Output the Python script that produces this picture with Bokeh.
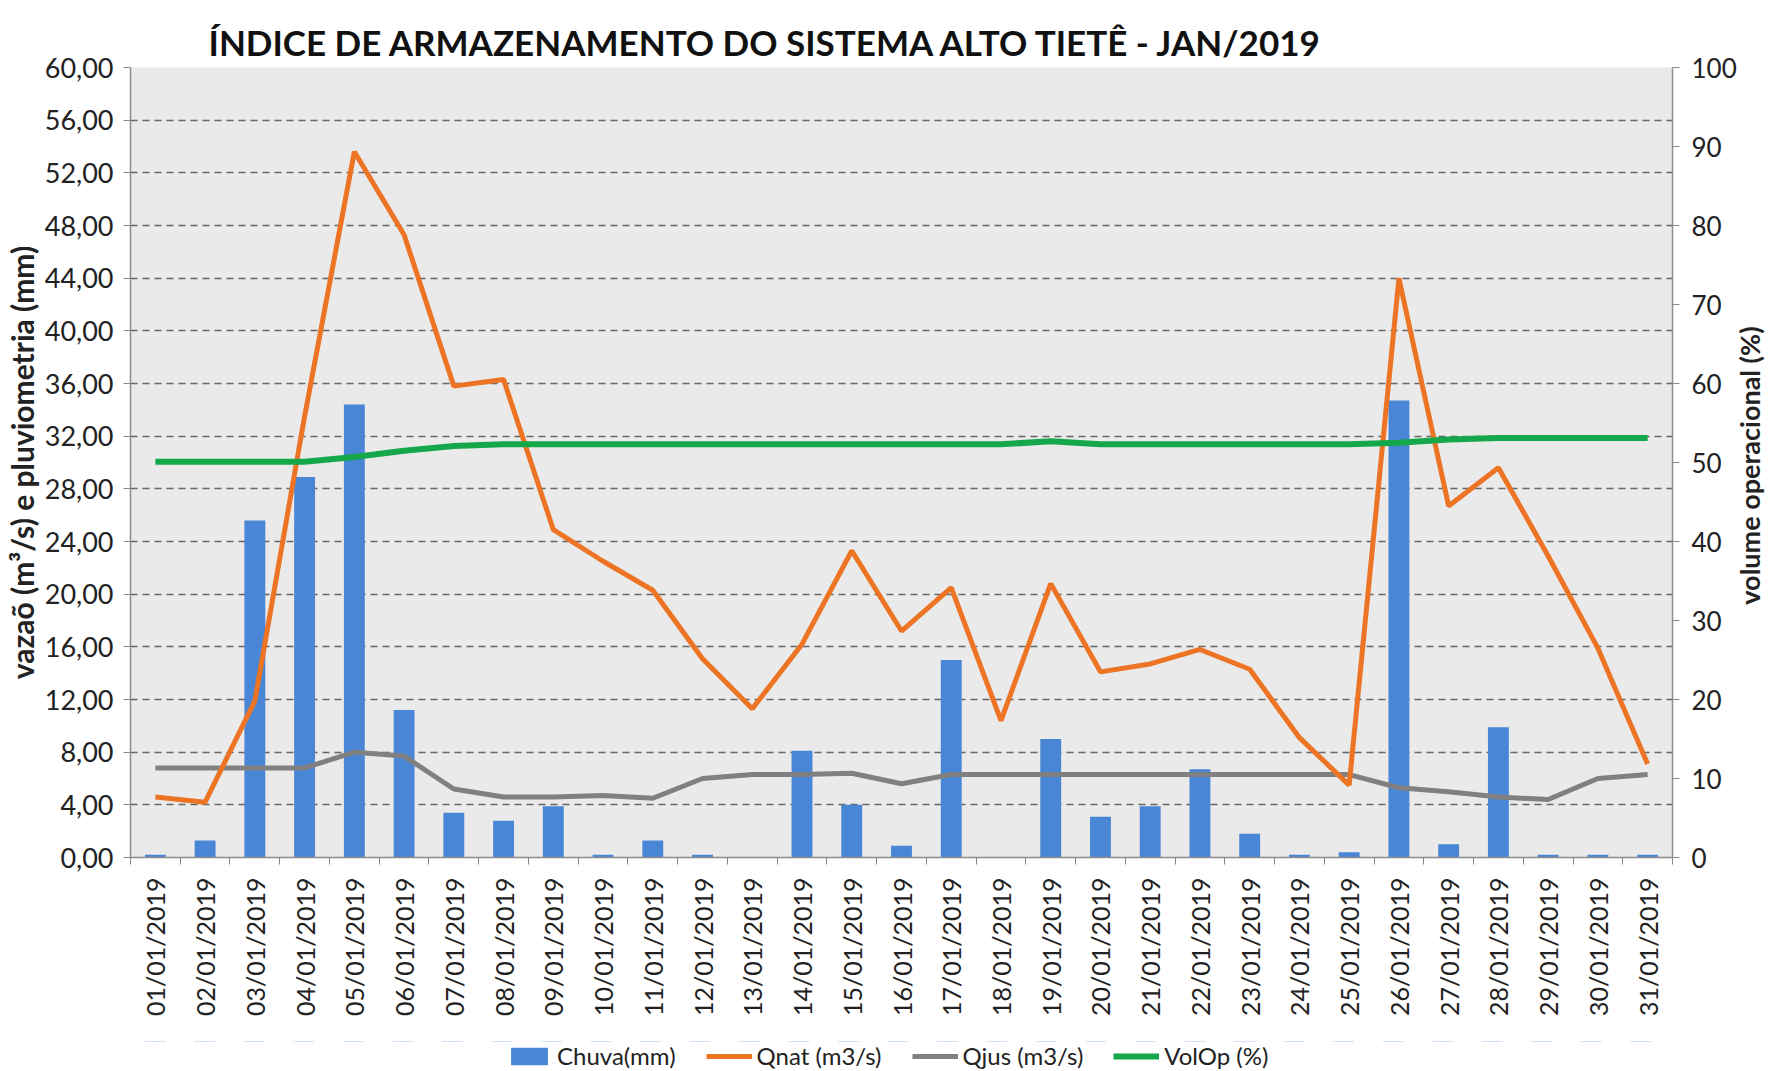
from bokeh.plotting import figure
from bokeh.layouts import column
from bokeh.models import (Range1d, LinearAxis, FixedTicker, Legend, LegendItem, Title,
                          ColumnDataSource, CustomJSTickFormatter)
from bokeh.embed import file_html
from bokeh.resources import INLINE

dates = ["01/01/2019", "02/01/2019", "03/01/2019", "04/01/2019", "05/01/2019", "06/01/2019",
         "07/01/2019", "08/01/2019", "09/01/2019", "10/01/2019", "11/01/2019", "12/01/2019",
         "13/01/2019", "14/01/2019", "15/01/2019", "16/01/2019", "17/01/2019", "18/01/2019",
         "19/01/2019", "20/01/2019", "21/01/2019", "22/01/2019", "23/01/2019", "24/01/2019",
         "25/01/2019", "26/01/2019", "27/01/2019", "28/01/2019", "29/01/2019", "30/01/2019",
         "31/01/2019"]

chuva = [0.2, 1.3, 25.6, 28.9, 34.4, 11.2, 3.4, 2.8, 3.9, 0.2, 1.3, 0.2, 0.0, 8.1, 4.0, 0.9,
         15.0, 0.0, 9.0, 3.1, 3.9, 6.7, 1.8, 0.2, 0.4, 34.7, 1.0, 9.9, 0.2, 0.2, 0.2]

qnat = [4.6, 4.2, 11.9, 33.5, 53.6, 47.3, 35.8, 36.3, 24.9, 22.5, 20.3, 15.1, 11.3, 16.2, 23.3,
        17.2, 20.5, 10.4, 20.8, 14.1, 14.7, 15.8, 14.3, 9.1, 5.5, 44.0, 26.7, 29.6, 22.9, 15.9, 7.1]

qjus = [6.8, 6.8, 6.8, 6.8, 8.0, 7.7, 5.2, 4.6, 4.6, 4.7, 4.5, 6.0, 6.3, 6.3, 6.4, 5.6, 6.3,
        6.3, 6.3, 6.3, 6.3, 6.3, 6.3, 6.3, 6.3, 5.3, 5.0, 4.6, 4.4, 6.0, 6.3]

volop = [50.1, 50.1, 50.1, 50.1, 50.7, 51.5, 52.1, 52.3, 52.3, 52.3, 52.3, 52.3, 52.3, 52.3,
         52.3, 52.3, 52.3, 52.3, 52.7, 52.3, 52.3, 52.3, 52.3, 52.3, 52.3, 52.5, 52.9, 53.1,
         53.1, 53.1, 53.1]

left_ticks = [0, 4, 8, 12, 16, 20, 24, 28, 32, 36, 40, 44, 48, 52, 56, 60]
right_ticks = [0, 10, 20, 30, 40, 50, 60, 70, 80, 90, 100]

series_names = ["Chuva(mm)", "Qnat (m3/s)", "Qjus (m3/s)", "VolOp (%)"]
left_title = "vazaõ (m³/s) e pluviometria (mm)"
right_title = "volume operacional (%)"

FONT = "Lato"
C_BAR, C_QNAT, C_QJUS, C_VOL = "#4A86D6", "#EC7424", "#808080", "#14A84A"
RIGHT_TITLE_START = 32  # where the rotated right-axis title begins (in % units of that axis)

n = len(dates)
xpos = list(range(1, n + 1))
src = ColumnDataSource(dict(x=xpos, date=dates, chuva=chuva, qnat=qnat, qjus=qjus, volop=volop))

p = figure(frame_width=1542, frame_height=790, output_backend="svg", toolbar_location=None,
           x_range=Range1d(0.5, n + 0.5), y_range=Range1d(0, 60),
           min_border_left=130, min_border_right=104, min_border_top=67, min_border_bottom=184,
           background_fill_color="#EAEAEA", border_fill_color="white")
p.outline_line_color = None
p.extra_y_ranges = {"vol": Range1d(0, 100)}

p.title = Title(text="ÍNDICE DE ARMAZENAMENTO DO SISTEMA ALTO TIETÊ - JAN/2019",
                align="left", offset=78, text_font=FONT, text_font_style="bold",
                text_font_size="35px", text_color="#111111")

bars = p.vbar(x="x", top="chuva", width=0.42, bottom=0, source=src,
              fill_color=C_BAR, line_color=None)
l_qjus = p.line("x", "qjus", source=src, line_color=C_QJUS, line_width=5)
l_qnat = p.line("x", "qnat", source=src, line_color=C_QNAT, line_width=5)
l_vol = p.line("x", "volop", source=src, y_range_name="vol", line_color=C_VOL, line_width=6)

# x axis
xa = p.xaxis[0]
xa.ticker = FixedTicker(ticks=xpos, minor_ticks=[i + 0.5 for i in range(0, n + 1)])
xa.major_label_overrides = {i: d for i, d in zip(xpos, dates)}
xa.major_label_orientation = 1.5707963
xa.major_tick_line_color = None
xa.major_tick_out = 7
xa.minor_tick_line_color = "#888888"
xa.minor_tick_out = 7
xa.minor_tick_in = 0
xa.axis_line_color = "#8C8C8C"
xa.axis_line_width = 1.5
xa.major_label_text_font = FONT
xa.major_label_text_font_size = "25px"
xa.major_label_text_color = "#222222"
xa.major_label_standoff = 13

# left y axis
ya = p.yaxis[0]
ya.ticker = FixedTicker(ticks=left_ticks)
ya.formatter = CustomJSTickFormatter(code="return tick.toFixed(2).replace('.', ',');")
ya.axis_label = left_title
ya.axis_label_text_font = FONT
ya.axis_label_text_font_style = "bold"
ya.axis_label_text_font_size = "30px"
ya.axis_label_text_color = "#222222"
ya.axis_label_standoff = 2
ya.major_label_text_font = FONT
ya.major_label_text_font_size = "27px"
ya.major_label_text_color = "#222222"
ya.major_tick_out = 7
ya.major_tick_in = 0
ya.major_tick_line_color = "#8C8C8C"
ya.minor_tick_line_color = None
ya.axis_line_color = "#8C8C8C"
ya.axis_line_width = 1.5
ya.major_label_standoff = 10

# right y axis (ticks)
ra = LinearAxis(y_range_name="vol", ticker=FixedTicker(ticks=right_ticks))
ra.major_label_text_font = FONT
ra.major_label_text_font_size = "26px"
ra.major_label_text_color = "#222222"
ra.major_tick_out = 7
ra.major_tick_in = 0
ra.major_tick_line_color = "#8C8C8C"
ra.minor_tick_line_color = None
ra.axis_line_color = "#8C8C8C"
ra.axis_line_width = 1.5
ra.major_label_standoff = 12
p.add_layout(ra, "right")

# right y axis title, written bottom-to-top
rt = LinearAxis(y_range_name="vol", ticker=FixedTicker(ticks=[RIGHT_TITLE_START]))
rt.major_label_overrides = {RIGHT_TITLE_START: right_title}
rt.major_label_orientation = 1.5707963
rt.major_label_text_font = FONT
rt.major_label_text_font_style = "bold"
rt.major_label_text_font_size = "27px"
rt.major_label_text_color = "#222222"
rt.major_label_standoff = 10
rt.major_tick_out = 0
rt.major_tick_in = 0
rt.major_tick_line_color = None
rt.minor_tick_line_color = None
rt.axis_line_color = None
p.add_layout(rt, "right")

p.xgrid.grid_line_color = None
p.ygrid.grid_line_color = "#666666"
p.ygrid.grid_line_dash = "7 5"
p.ygrid.grid_line_width = 1.5

# legend strip below the chart; its renderers reuse the chart data, kept out of view
lg = figure(width=1778, height=30, output_backend="svg", toolbar_location=None,
            x_range=Range1d(0.5, n + 0.5), y_range=Range1d(-200, -100), min_border=0,
            background_fill_color="white", border_fill_color="white")
lg.axis.visible = False
lg.grid.visible = False
lg.outline_line_color = None
g_bar = lg.vbar(x="x", top="chuva", width=0.42, source=src, fill_color=C_BAR, line_color=None)
g_qnat = lg.line("x", "qnat", source=src, line_color=C_QNAT, line_width=5)
g_qjus = lg.line("x", "qjus", source=src, line_color=C_QJUS, line_width=5)
g_vol = lg.line("x", "volop", source=src, line_color=C_VOL, line_width=6)
legend = Legend(items=[LegendItem(label=series_names[0], renderers=[g_bar]),
                       LegendItem(label=series_names[1], renderers=[g_qnat]),
                       LegendItem(label=series_names[2], renderers=[g_qjus]),
                       LegendItem(label=series_names[3], renderers=[g_vol])],
                orientation="horizontal", location=(376, 1),
                label_text_font=FONT, label_text_font_size="24px", label_text_color="#222222",
                glyph_width=46, glyph_height=22, label_standoff=5, spacing=30,
                border_line_color=None, background_fill_alpha=0, padding=0, margin=0)
lg.add_layout(legend)

layout = column(p, lg, spacing=0)
open("out.html", "w").write(file_html(layout, INLINE))
